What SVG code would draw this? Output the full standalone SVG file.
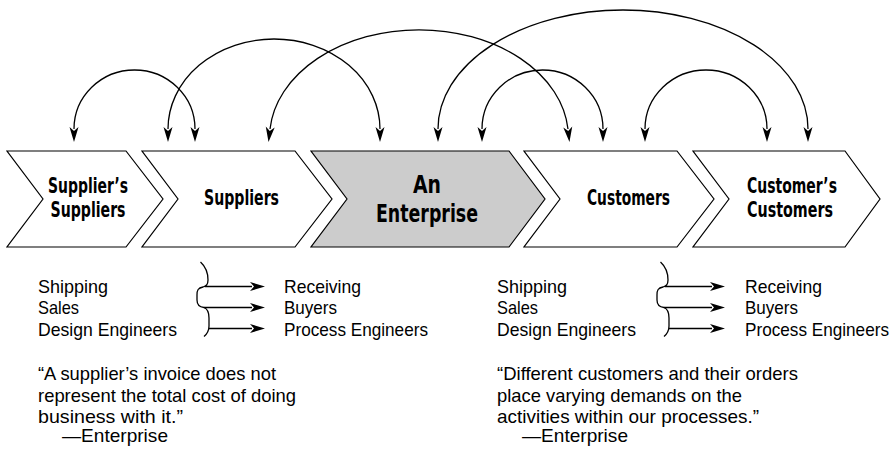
<svg xmlns="http://www.w3.org/2000/svg" width="896" height="449" viewBox="0 0 896 449">
<style>
.chev{fill:#ffffff;stroke:#000;stroke-width:1.2;stroke-linejoin:miter}
.gray{fill:#cccccc}
.lbl{font-family:"DejaVu Sans Condensed","Liberation Sans",sans-serif;font-weight:bold;font-size:22px;fill:#000;text-anchor:middle}
.big{font-size:25px}
.txt{font-family:"Liberation Sans","Noto Sans",sans-serif;font-size:17.7px;fill:#000}
.arc{fill:none;stroke:#000;stroke-width:1.3;marker-start:url(#ah);marker-end:url(#ah)}
.hl{fill:none;stroke:#000;stroke-width:1.3;marker-end:url(#ah)}
.brace{fill:none;stroke:#000;stroke-width:1.3}
</style>
<defs>
<marker id="ah" viewBox="0 0 16 10" refX="2" refY="5" markerWidth="16" markerHeight="10" markerUnits="userSpaceOnUse" orient="auto-start-reverse">
<path d="M0,0.5 L15,5 L0,9.5 L4,5 Z" fill="#000"/>
</marker>
</defs>

<g id="connectors">
<path class="arc" d="M74,129 A60.5,59 0 0 1 195,129"/>
<path class="arc" d="M168,129 A106,90 0 0 1 380,129"/>
<path class="arc" d="M270,129 A149.5,108 0 0 1 568,129"/>
<path class="arc" d="M438,129 A185,119 0 0 1 808,129"/>
<path class="arc" d="M482,129 A60.5,59 0 0 1 603,129"/>
<path class="arc" d="M645,129 A61,59 0 0 1 767,129"/>
</g>

<g id="suppliers-suppliers">
<polygon class="chev" points="7,151 126,151 163,199 126,247 7,247 43,199"/>
<text class="lbl" x="88" y="193" textLength="80" lengthAdjust="spacingAndGlyphs">Supplier’s</text>
<text class="lbl" x="88" y="217" textLength="75" lengthAdjust="spacingAndGlyphs">Suppliers</text>
</g>
<g id="suppliers">
<polygon class="chev" points="142,151 295,151 332,199 295,247 142,247 178,199"/>
<text class="lbl" x="241.5" y="205" textLength="75" lengthAdjust="spacingAndGlyphs">Suppliers</text>
</g>
<g id="enterprise">
<polygon class="chev gray" points="311,151 509,151 545,199 509,247 311,247 347,199"/>
<text class="lbl big" x="427" y="193" textLength="28" lengthAdjust="spacingAndGlyphs">An</text>
<text class="lbl big" x="427" y="222" textLength="102" lengthAdjust="spacingAndGlyphs">Enterprise</text>
</g>
<g id="customers">
<polygon class="chev" points="524,151 677,151 714,199 677,247 524,247 560,199"/>
<text class="lbl" x="628.5" y="205" textLength="83" lengthAdjust="spacingAndGlyphs">Customers</text>
</g>
<g id="customers-customers">
<polygon class="chev" points="693,151 845,151 880,199 845,247 693,247 729,199"/>
<text class="lbl" x="792" y="193" textLength="90" lengthAdjust="spacingAndGlyphs">Customer’s</text>
<text class="lbl" x="790" y="217" textLength="86" lengthAdjust="spacingAndGlyphs">Customers</text>
</g>

<g id="supplier-side">
<text class="txt" x="38" y="293" textLength="70" lengthAdjust="spacingAndGlyphs">Shipping</text>
<text class="txt" x="38" y="314" textLength="41" lengthAdjust="spacingAndGlyphs">Sales</text>
<text class="txt" x="38" y="336" textLength="139" lengthAdjust="spacingAndGlyphs">Design Engineers</text>
<path class="brace" d="M200.5,262 C206,267 208,272 208,280 C208,285 206,286 203,287 C198,288 197,290 197,295 L197,300 C197,305 199,307 204,307.5 C208,309 209,312 209,318 L209,326 C209,331 207,334 204,336.5"/>
<path class="hl" d="M205,286.5 H252"/>
<path class="hl" d="M204,307.5 H252"/>
<path class="hl" d="M209,328.5 H252"/>
<text class="txt" x="284" y="293" textLength="77" lengthAdjust="spacingAndGlyphs">Receiving</text>
<text class="txt" x="284" y="314" textLength="53" lengthAdjust="spacingAndGlyphs">Buyers</text>
<text class="txt" x="284" y="336" textLength="144" lengthAdjust="spacingAndGlyphs">Process Engineers</text>
<text class="txt" x="38" y="380" textLength="238" lengthAdjust="spacingAndGlyphs">“A supplier’s invoice does not</text>
<text class="txt" x="38" y="401.5" textLength="258" lengthAdjust="spacingAndGlyphs">represent the total cost of doing</text>
<text class="txt" x="38" y="422.5" textLength="145" lengthAdjust="spacingAndGlyphs">business with it.”</text>
<text class="txt" x="62" y="442" textLength="106" lengthAdjust="spacingAndGlyphs">—Enterprise</text>
</g>

<g id="customer-side">
<text class="txt" x="497" y="293" textLength="70" lengthAdjust="spacingAndGlyphs">Shipping</text>
<text class="txt" x="497" y="314" textLength="41" lengthAdjust="spacingAndGlyphs">Sales</text>
<text class="txt" x="497" y="336" textLength="139" lengthAdjust="spacingAndGlyphs">Design Engineers</text>
<g transform="translate(460,0)">
<path class="brace" d="M200.5,262 C206,267 208,272 208,280 C208,285 206,286 203,287 C198,288 197,290 197,295 L197,300 C197,305 199,307 204,307.5 C208,309 209,312 209,318 L209,326 C209,331 207,334 204,336.5"/>
<path class="hl" d="M205,286.5 H252"/>
<path class="hl" d="M204,307.5 H252"/>
<path class="hl" d="M209,328.5 H252"/>
</g>
<text class="txt" x="745" y="293" textLength="77" lengthAdjust="spacingAndGlyphs">Receiving</text>
<text class="txt" x="745" y="314" textLength="53" lengthAdjust="spacingAndGlyphs">Buyers</text>
<text class="txt" x="745" y="336" textLength="144" lengthAdjust="spacingAndGlyphs">Process Engineers</text>
<text class="txt" x="497" y="380" textLength="301" lengthAdjust="spacingAndGlyphs">“Different customers and their orders</text>
<text class="txt" x="497" y="401.5" textLength="245" lengthAdjust="spacingAndGlyphs">place varying demands on the</text>
<text class="txt" x="497" y="422.5" textLength="262" lengthAdjust="spacingAndGlyphs">activities within our processes.”</text>
<text class="txt" x="522" y="442" textLength="106" lengthAdjust="spacingAndGlyphs">—Enterprise</text>
</g>
</svg>
